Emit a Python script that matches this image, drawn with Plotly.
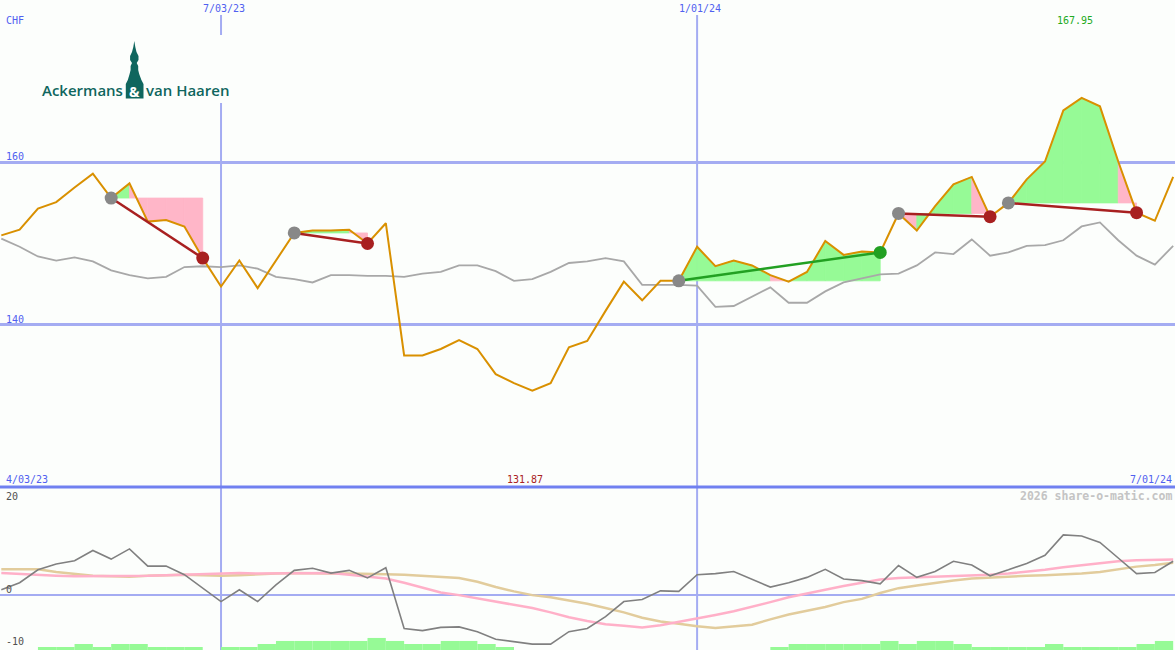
import pandas as pd
import plotly.graph_objects as go

# ---------------- data ----------------
dates = pd.date_range("2023-04-10", periods=65, freq="7D")

price = [151.0, 151.7, 154.3, 155.1, 156.9, 158.6, 155.6, 157.4, 152.7, 152.9,
         152.1, 148.2, 144.7, 147.9, 144.5, 147.9, 151.3, 151.6, 151.6, 151.7,
         150.0, 152.5, 136.2, 136.2, 137.0, 138.1, 137.0, 133.9, 132.8, 131.87,
         132.8, 137.2, 138.0, 141.7, 145.3, 143.0, 145.4, 145.4, 149.6, 147.2,
         147.9, 147.3, 146.1, 145.3, 146.5, 150.3, 148.6, 149.0, 148.9, 153.7,
         151.6, 154.6, 157.3, 158.2, 153.3, 155.0, 157.9, 160.1, 166.4, 167.95,
         166.9, 160.1, 153.8, 152.8, 158.2]

benchmark = [150.6, 149.6, 148.4, 147.9, 148.3, 147.8, 146.7, 146.1, 145.7, 145.9,
             147.1, 147.2, 147.1, 147.3, 146.9, 145.9, 145.6, 145.2, 146.1, 146.1,
             146.0, 146.0, 145.9, 146.3, 146.5, 147.3, 147.3, 146.6, 145.4, 145.6,
             146.5, 147.6, 147.8, 148.2, 147.8, 144.9, 144.9, 144.9, 144.8, 142.2,
             142.3, 143.4, 144.6, 142.7, 142.7, 144.1, 145.2, 145.7, 146.2, 146.3,
             147.3, 148.9, 148.7, 150.5, 148.5, 148.9, 149.7, 149.8, 150.4, 152.1,
             152.6, 150.4, 148.5, 147.4, 149.7]

osc = [0.9, 2.2, 4.6, 5.7, 6.3, 8.2, 6.6, 8.5, 5.3, 5.3,
       3.7, 1.2, -1.3, 0.9, -1.3, 1.8, 4.5, 4.9, 4.0, 4.5,
       3.1, 5.0, -6.3, -6.7, -6.1, -6.0, -6.9, -8.3, -8.7, -9.2,
       -9.2, -6.9, -6.3, -4.1, -1.3, -0.9, 0.7, 0.6, 3.7, 3.9,
       4.3, 2.9, 1.4, 2.2, 3.2, 4.7, 2.9, 2.6, 2.0, 5.4,
       3.2, 4.3, 6.2, 5.5, 3.5, 4.6, 5.8, 7.3, 11.1, 10.9,
       9.7, 6.8, 3.9, 4.1, 6.2]

osc_fast = [4.0, 3.8, 3.7, 3.5, 3.4, 3.4, 3.4, 3.5, 3.5, 3.6,
            3.7, 3.8, 3.9, 4.0, 3.9, 3.9, 4.0, 4.0, 4.0, 3.7,
            3.3, 3.0, 2.2, 1.3, 0.4, -0.1, -0.7, -1.2, -1.8, -2.5,
            -3.3, -4.2, -4.9, -5.5, -5.8, -6.1, -5.7, -5.1, -4.5, -3.8,
            -3.1, -2.3, -1.4, -0.5, 0.2, 1.0, 1.6, 2.2, 2.8, 3.1,
            3.2, 3.4, 3.5, 3.6, 3.7, 3.9, 4.2, 4.6, 5.1, 5.5,
            5.9, 6.2, 6.4, 6.5, 6.5]

osc_slow = [4.7, 4.7, 4.7, 4.2, 3.8, 3.5, 3.4, 3.3, 3.5, 3.6,
            3.7, 3.6, 3.5, 3.6, 3.8, 3.9, 4.0, 3.9, 3.9, 3.9,
            3.9, 3.8, 3.7, 3.5, 3.2, 3.1, 2.4, 1.4, 0.6, -0.1,
            -0.5, -1.1, -1.7, -2.5, -3.3, -4.3, -5.0, -5.4, -5.9, -6.2,
            -5.9, -5.6, -4.6, -3.7, -3.0, -2.3, -1.4, -0.8, 0.3, 1.2,
            1.7, 2.2, 2.6, 3.0, 3.2, 3.4, 3.5, 3.6, 3.7, 3.9,
            4.2, 4.7, 5.2, 5.5, 5.9]

volume_level = [0, 0, 1, 1, 2, 1, 2, 2, 1, 1,
                1, 0, 1, 1, 2, 3, 3, 3, 3, 3,
                4, 3, 2, 2, 3, 3, 2, 1, 0, 0,
                0, 0, 0, 0, 0, 0, 0, 0, 0, 0,
                0, 0, 1, 2, 2, 2, 2, 2, 3, 2,
                3, 3, 2, 1, 1, 1, 1, 2, 1, 1,
                1, 1, 2, 3, 0]

trade_start = [6, 16, 37, 49, 55]
trade_end = [11, 20, 48, 54, 62]

marker_dates = ["2023-07-03", "2024-01-01"]
marker_labels = ["7/03/23", "1/01/24"]
period_start_label = "4/03/23"
period_end_label = "7/01/24"
currency = "CHF"

# ---------------- style ----------------
W, H = 1175, 650
BG = "#fcfefc"
GRID = "#a4acf2"
DIVIDER = "#7080f0"
ORANGE = "#d99000"
GREY = "#a8a8a8"
FILL_UP = "#96fa96"
FILL_DN = "#ffb6c8"
LOSS = "#a82020"
GAIN = "#22a022"
LABEL_BLUE = "#5060f0"
MONO = "DejaVu Sans Mono"
TEAL = "#0f665e"
SPLIT = 163 / 650  # lower panel height fraction

Y_MAIN = [120, 180]
Y_LOW = [-10.3, 20]
VOL_UNIT = 0.56


def px(x):
    return x / W


def py(y):
    return 1 - y / H


fig = go.Figure()

# trade fills (per segment, coloured by whether the segment ends above the entry level)
for s, e in zip(trade_start, trade_end):
    lvl = price[s]
    for i in range(s, e):
        up = price[i + 1] >= lvl
        col = FILL_UP if up else FILL_DN
        fig.add_trace(go.Scatter(
            x=[dates[i], dates[i], dates[i + 1], dates[i + 1], dates[i]],
            y=[lvl, price[i], price[i + 1], lvl, lvl],
            mode="lines", fill="toself", fillcolor=col,
            line=dict(width=0.8, color=col), hoverinfo="skip", xaxis="x", yaxis="y"))

# benchmark and price
fig.add_trace(go.Scatter(x=dates, y=benchmark, mode="lines",
                         line=dict(color=GREY, width=1.8), xaxis="x", yaxis="y",
                         name="benchmark"))
fig.add_trace(go.Scatter(x=dates, y=price, mode="lines",
                         line=dict(color=ORANGE, width=2), xaxis="x", yaxis="y",
                         name="price"))

# trade lines and dots
for s, e in zip(trade_start, trade_end):
    win = price[e] >= price[s]
    col = GAIN if win else LOSS
    fig.add_trace(go.Scatter(x=[dates[s], dates[e]], y=[price[s], price[e]],
                             mode="lines", line=dict(color=col, width=2.5),
                             xaxis="x", yaxis="y", hoverinfo="skip"))
    fig.add_trace(go.Scatter(x=[dates[s]], y=[price[s]], mode="markers",
                             marker=dict(color="#888888", size=13),
                             xaxis="x", yaxis="y"))
    fig.add_trace(go.Scatter(x=[dates[e]], y=[price[e]], mode="markers",
                             marker=dict(color=col, size=13),
                             xaxis="x", yaxis="y"))

# lower panel
week_ms = 7 * 24 * 3600 * 1000
fig.add_trace(go.Bar(x=dates, y=[v * VOL_UNIT for v in volume_level], base=Y_LOW[0],
                     width=week_ms, offset=0, marker=dict(color=FILL_UP, line=dict(width=0)),
                     xaxis="x", yaxis="y2", hoverinfo="skip"))
fig.add_trace(go.Scatter(x=dates, y=osc_slow, mode="lines",
                         line=dict(color="#e2cc9c", width=2.5), xaxis="x", yaxis="y2"))
fig.add_trace(go.Scatter(x=dates, y=osc_fast, mode="lines",
                         line=dict(color="#ffb0c8", width=2.5), xaxis="x", yaxis="y2"))
fig.add_trace(go.Scatter(x=dates, y=osc, mode="lines",
                         line=dict(color="#808080", width=1.6), xaxis="x", yaxis="y2"))

# ---------------- shapes ----------------
shapes = []
for d in marker_dates:
    shapes.append(dict(type="line", xref="x", yref="paper", x0=d, x1=d,
                       y0=0, y1=py(15), line=dict(color=GRID, width=2), layer="below"))
shapes.append(dict(type="line", xref="paper", yref="paper", x0=0, x1=1,
                   y0=SPLIT, y1=SPLIT, line=dict(color=DIVIDER, width=3), layer="above"))
# logo backdrop
shapes.append(dict(type="rect", xref="paper", yref="paper", x0=px(28), x1=px(238),
                   y0=py(103), y1=py(35), fillcolor=BG, line=dict(width=0), layer="above"))
tower = [(134.3, 41), (135.3, 47), (136.5, 52), (138.5, 56), (138.5, 60), (136.7, 63),
         (138.2, 66), (138.2, 70), (139.2, 74), (141.4, 80), (143.5, 84), (143.5, 98.5),
         (125.8, 98.5), (125.8, 84), (127.8, 80), (129.6, 74), (130.6, 70), (130.6, 66),
         (132.0, 63), (130.1, 60), (130.1, 56), (132, 52), (133.3, 47)]
path = "M " + " L ".join(f"{px(a):.5f},{py(b):.5f}" for a, b in tower) + " Z"
shapes.append(dict(type="path", xref="paper", yref="paper", path=path,
                   fillcolor=TEAL, line=dict(width=0), layer="above"))

# ---------------- annotations ----------------
anns = []


def ann(text, x, y, color, xanchor="left", size=10, font=MONO, weight="normal"):
    anns.append(dict(text=text, x=px(x), y=py(y), xref="paper", yref="paper",
                     xanchor=xanchor, yanchor="middle", showarrow=False,
                     font=dict(family=font, size=size, color=color, weight=weight),
                     borderpad=0))


ann(currency, 5, 21, LABEL_BLUE)
for d, lab in zip(marker_dates, marker_labels):
    k = list(dates).index(pd.Timestamp(d))
    xpix = 1.3 + 18.31 * k
    ann(lab, xpix + 3, 9, LABEL_BLUE, "center")
ann("160", 5, 156, LABEL_BLUE)
ann("140", 5, 319, LABEL_BLUE)
ann(f"{max(price):.2f}", 1075, 21, "#22aa22", "center")
ann(period_start_label, 5, 479, LABEL_BLUE)
ann(f"{min(price):.2f}", 525, 479, "#aa2222", "center")
ann(period_end_label, 1173, 479, LABEL_BLUE, "right")
ann("2026 share-o-matic.com", 1173, 496, "#c4c4c4", "right", size=11.5, weight="bold")
ann("20", 5, 496, "#505050")
ann("0", 5, 589, "#505050")
ann("-10", 5, 641, "#505050")
# logo text
ann("Ackermans", 124, 90, TEAL, "right", size=15, font="Open Sans", weight=600)
ann("van Haaren", 145, 90, TEAL, "left", size=15, font="Open Sans", weight=600)
ann("&", 134.6, 91.5, "white", "center", size=14, font="Open Sans", weight="bold")

pad = pd.Timedelta(days=0.5)
fig.update_layout(
    width=W, height=H, margin=dict(l=0, r=0, t=0, b=0),
    paper_bgcolor=BG, plot_bgcolor=BG, showlegend=False,
    xaxis=dict(type="date", range=[dates[0] - pad, dates[-1] + pd.Timedelta(days=0.7)],
               showgrid=False, showticklabels=False, zeroline=False, showline=False,
               ticks="", anchor="y2"),
    yaxis=dict(domain=[SPLIT, 1], range=Y_MAIN, tickvals=[140, 160], showticklabels=False,
               gridcolor=GRID, gridwidth=2.5, zeroline=False, showline=False, ticks=""),
    yaxis2=dict(domain=[0, SPLIT], range=Y_LOW, tickvals=[0], showticklabels=False,
                gridcolor=GRID, gridwidth=2, zeroline=False, showline=False, ticks=""),
    shapes=shapes, annotations=anns,
)

fig.write_html("out.html", config={"displayModeBar": False},
               post_script="document.body.style.margin='0';document.body.style.padding='0';"
                           "document.body.style.overflow='hidden';")
